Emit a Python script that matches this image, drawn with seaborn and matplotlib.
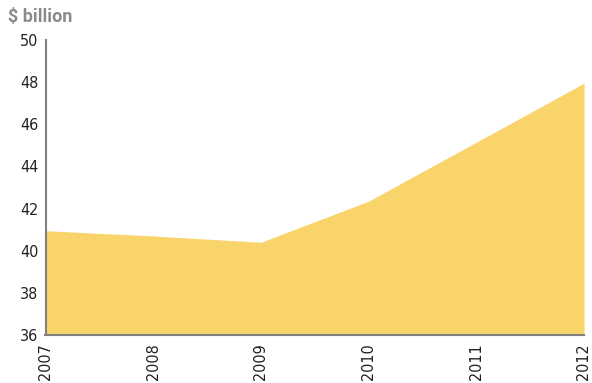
import matplotlib
matplotlib.use("Agg")
import matplotlib.pyplot as plt
import seaborn as sns
import pandas as pd

years = [2007, 2008, 2009, 2010, 2011, 2012]
values = [40.95, 40.7, 40.4, 42.35, 45.15, 47.95]
y_ticks = [36, 38, 40, 42, 44, 46, 48, 50]

sns.set_theme(style="white")
plt.rcParams["font.family"] = ["DejaVu Sans"]
plt.rcParams["font.stretch"] = "condensed"

df = pd.DataFrame({"year": years, "value": values})

fig = plt.figure(figsize=(5.92, 3.83), dpi=100)
ax = fig.add_axes([45.5 / 592, 48 / 383, (584 - 45.5) / 592, (335 - 40) / 383])

sns.lineplot(data=df, x="year", y="value", ax=ax, color="#F9D46B", lw=0)
ax.fill_between(df["year"], df["value"], 36, color="#F9D46B", lw=0)

ax.set_xlim(2007, 2012)
ax.set_ylim(36, 50)
ax.set_yticks(y_ticks)
ax.set_xticks(years)
ax.set_xticklabels([str(y) for y in years], rotation=90)
ax.set_xlabel("")
ax.set_ylabel("")
ax.tick_params(axis="both", labelsize=11.5, colors="#222222", length=0, pad=5)
ax.tick_params(axis="x", pad=6)

for side in ["top", "right"]:
    ax.spines[side].set_visible(False)
for side in ["left", "bottom"]:
    ax.spines[side].set_color("#808080")
    ax.spines[side].set_linewidth(1.5)

fig.text(8 / 592, 1 - 17 / 383, "$ billion", fontsize=13, fontweight="bold",
         color="#8a8a8a", va="center", ha="left",
         family=["Roboto", "DejaVu Sans"], fontstretch="normal")

fig.savefig("out.png", dpi=100)
